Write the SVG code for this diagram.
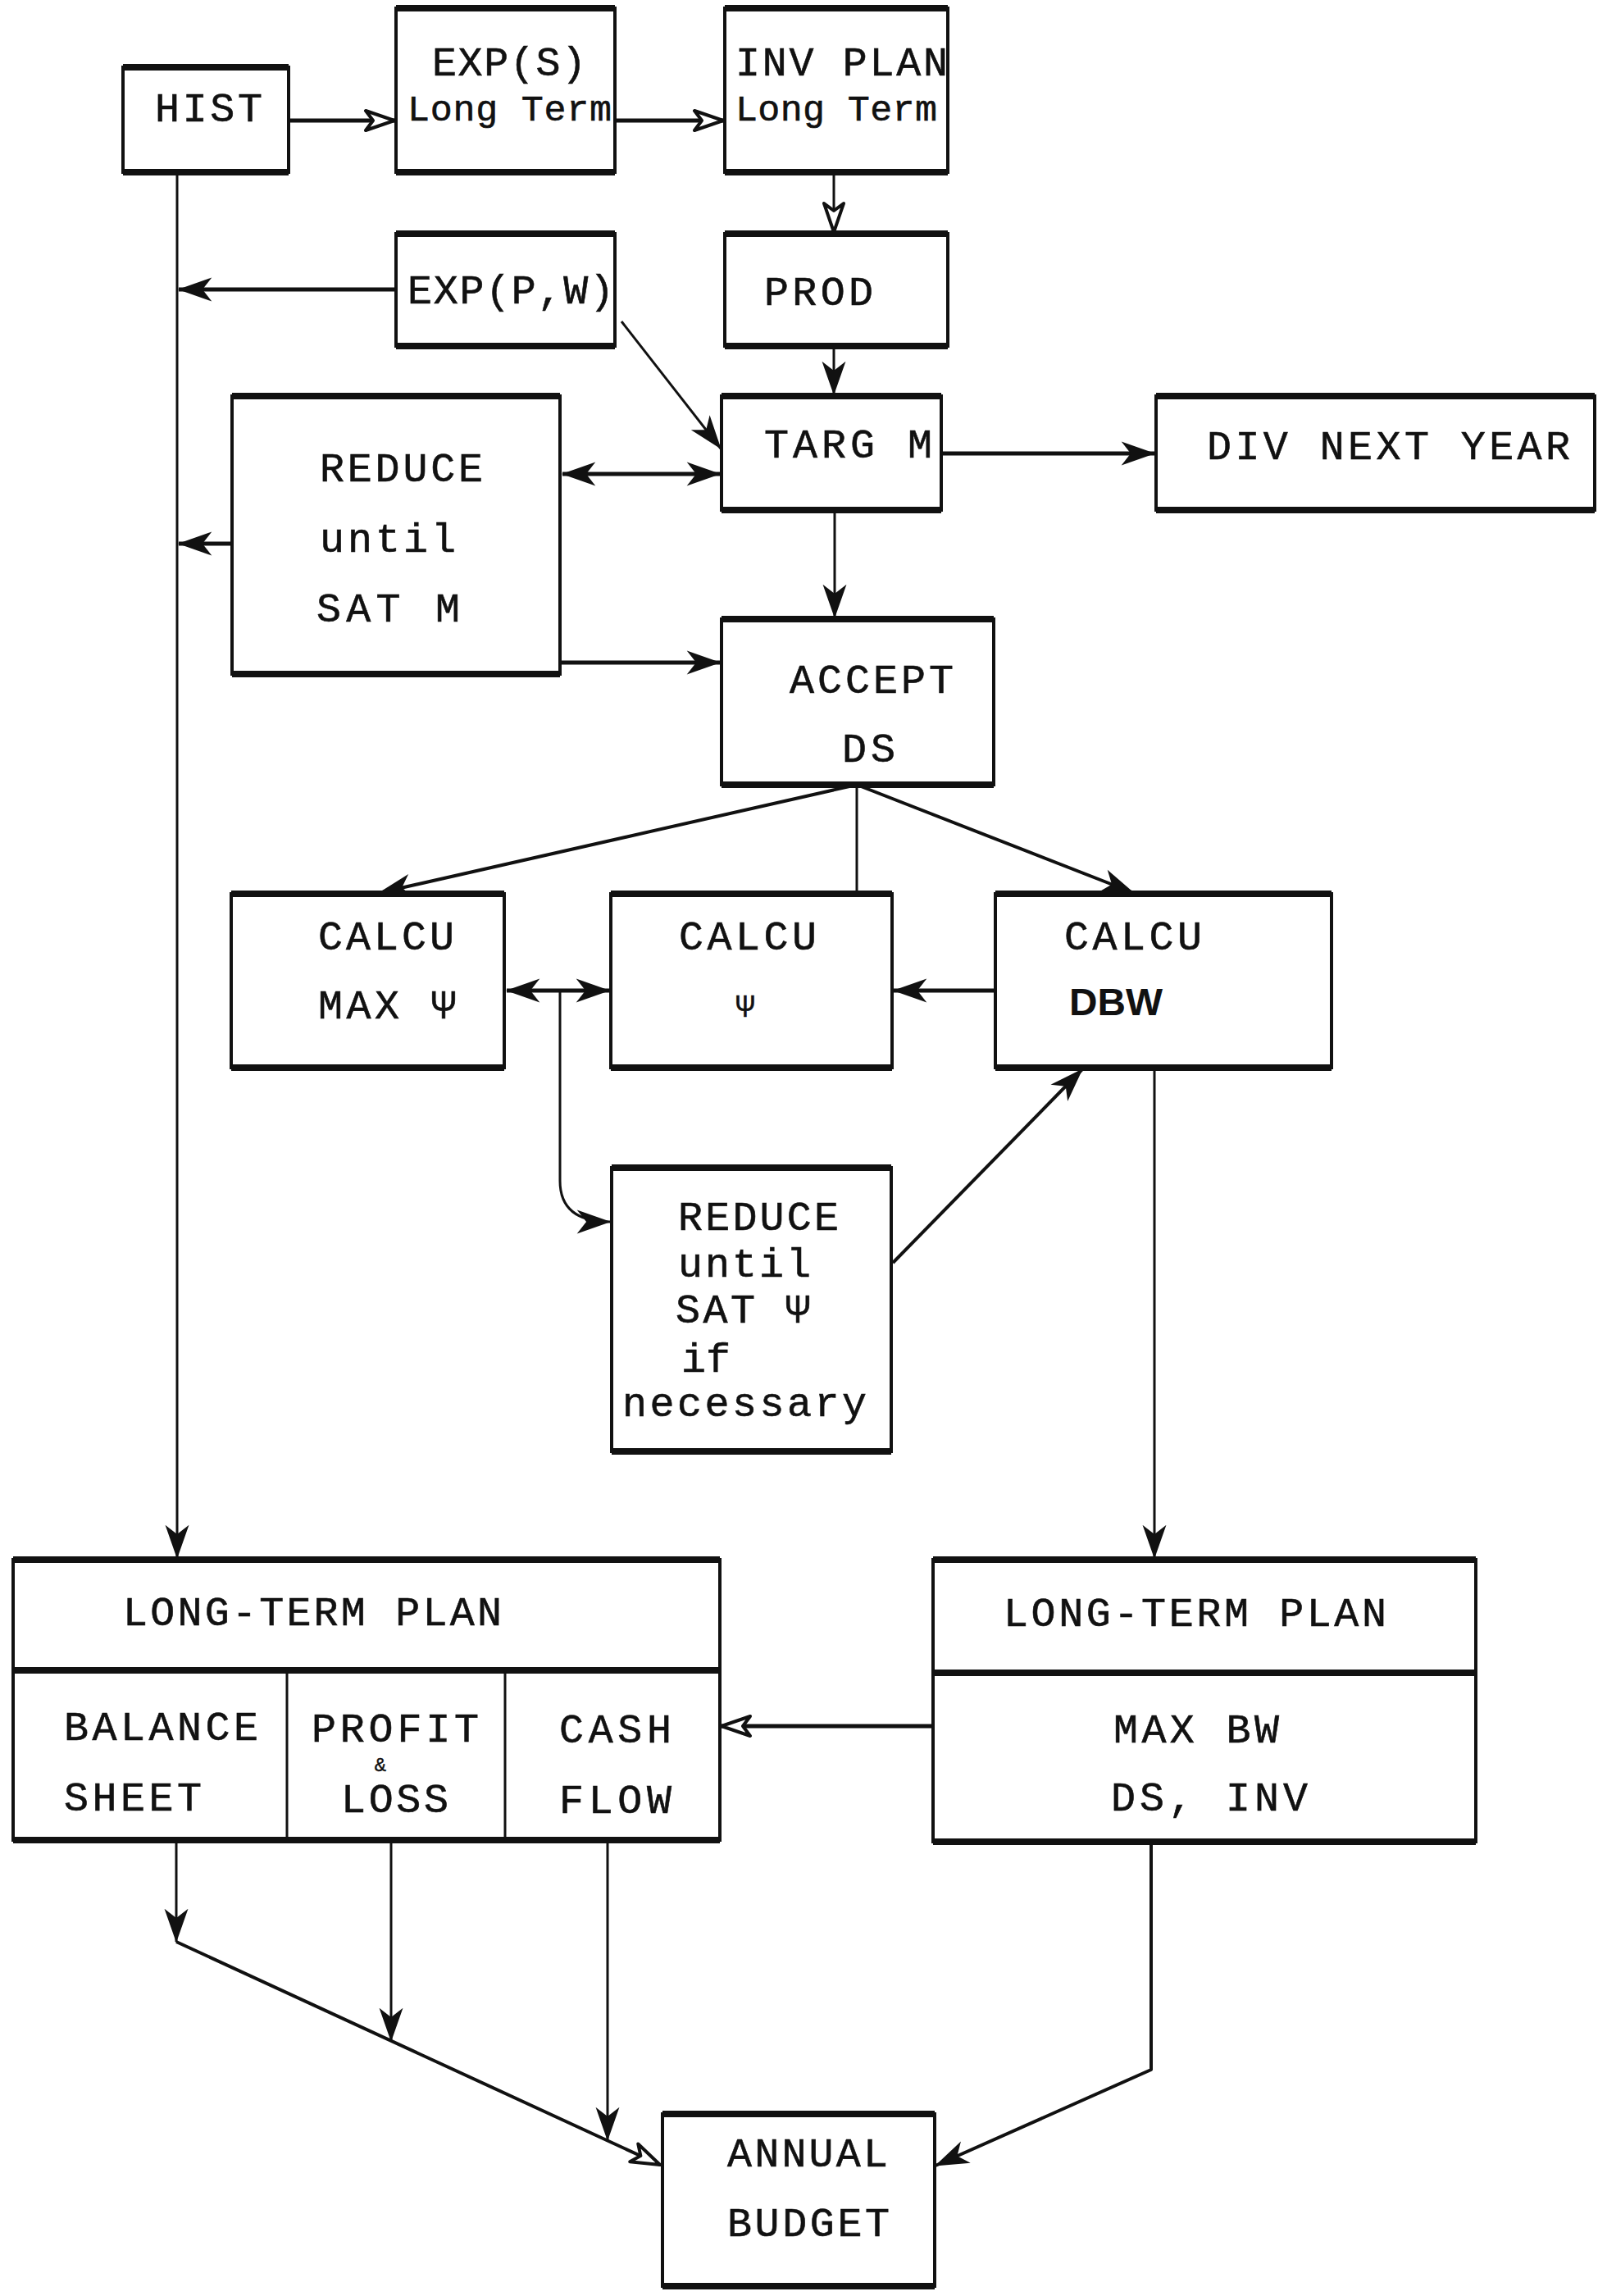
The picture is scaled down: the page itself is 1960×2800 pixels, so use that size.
<svg xmlns="http://www.w3.org/2000/svg" width="1960" height="2800" viewBox="0 0 1960 2800">
<style>
.bx{fill:#fff;stroke:#111;stroke-width:4}
.ed{stroke:#111;stroke-width:8;fill:none}
.dv{stroke:#111;stroke-width:3;fill:none}
.t{font-family:"Liberation Mono","DejaVu Sans Mono",monospace;font-size:50px;fill:#111;stroke:#111;stroke-width:0.6}
.tb{font-family:"Liberation Sans","DejaVu Sans",sans-serif;font-size:46px;font-weight:bold;fill:#111}
.c{stroke:#111;fill:none;stroke-linejoin:round}
.w5{stroke-width:5}
.w4{stroke-width:4}
.w3{stroke-width:3}
.af{marker-end:url(#af)}
.ao{marker-end:url(#ao)}
.ab{marker-start:url(#afs);marker-end:url(#af)}
</style>
<defs>
<marker id="af" viewBox="0 0 40 30" refX="39" refY="15" markerWidth="42" markerHeight="31" markerUnits="userSpaceOnUse" orient="auto">
<path d="M0,1 L40,15 L0,29 L11,15 Z" fill="#111"/>
</marker>
<marker id="afs" viewBox="0 0 40 30" refX="39" refY="15" markerWidth="42" markerHeight="31" markerUnits="userSpaceOnUse" orient="auto-start-reverse">
<path d="M0,1 L40,15 L0,29 L11,15 Z" fill="#111"/>
</marker>
<marker id="ao" viewBox="0 0 40 30" refX="38" refY="15" markerWidth="40" markerHeight="30" markerUnits="userSpaceOnUse" orient="auto">
<path d="M3,3 L38,15 L3,27 L12,15 Z" fill="#fff" stroke="#111" stroke-width="4" stroke-linejoin="round"/>
</marker>
</defs>
<rect width="1960" height="2800" fill="#fff"/>

<g id="connectors">
<line class="c w5 ao" x1="352" y1="147" x2="481" y2="147"/>
<line class="c w5 ao" x1="750" y1="147" x2="882" y2="147"/>
<line class="c w3 ao" x1="1017" y1="210" x2="1017" y2="283"/>
<line class="c w3 af" x1="216" y1="210" x2="216" y2="1900"/>
<line class="c w5 af" x1="483" y1="353" x2="218" y2="353"/>
<line class="c w3 af" x1="758" y1="392" x2="879" y2="547"/>
<line class="c w3 af" x1="1017" y1="422" x2="1017" y2="481"/>
<line class="c w5 ab" x1="686" y1="578" x2="878" y2="578"/>
<line class="c w5 af" x1="1148" y1="553" x2="1408" y2="553"/>
<line class="c w5 af" x1="283" y1="663" x2="218" y2="663"/>
<line class="c w3 af" x1="1018" y1="622" x2="1018" y2="753"/>
<line class="c w5 af" x1="683" y1="808" x2="878" y2="808"/>
<line class="c w4 af" x1="1045" y1="957" x2="462" y2="1089"/>
<line class="c w3" x1="1045" y1="957" x2="1045" y2="1090"/>
<line class="c w4 af" x1="1045" y1="957" x2="1383" y2="1089"/>
<line class="c w5 ab" x1="618" y1="1208" x2="743" y2="1208"/>
<line class="c w5 af" x1="1214" y1="1208" x2="1090" y2="1208"/>
<path class="c w3 af" d="M683,1208 V1440 Q683,1490 744,1490"/>
<line class="c w4 af" x1="1089" y1="1540" x2="1320" y2="1304"/>
<line class="c w3 af" x1="1408" y1="1302" x2="1408" y2="1900"/>
<line class="c w5 ao" x1="1138" y1="2105" x2="880" y2="2105"/>
<line class="c w3 af" x1="215" y1="2244" x2="215" y2="2368"/>
<line class="c w4 ao" x1="215" y1="2368" x2="805" y2="2640"/>
<line class="c w3 af" x1="477" y1="2244" x2="477" y2="2489"/>
<line class="c w3 af" x1="741" y1="2244" x2="741" y2="2610"/>
<path class="c w4 af" d="M1404,2247 V2524 L1141,2641"/>
</g>

<g id="hist">
<rect class="bx" x="150" y="82" width="202" height="128"/>
<path class="ed" d="M150,82 H352 M150,210 H352"/>
<text class="t" x="189" y="148" textLength="131" lengthAdjust="spacing">HIST</text>
</g>
<g id="exp-s">
<rect class="bx" x="483" y="10" width="267" height="200"/>
<path class="ed" d="M483,10 H750 M483,210 H750"/>
<text class="t" x="527" y="92" textLength="188" lengthAdjust="spacing">EXP(S)</text>
<text class="t" x="497" y="147" textLength="249" lengthAdjust="spacing" style="font-size:45px">Long Term</text>
</g>
<g id="inv-plan">
<rect class="bx" x="884" y="10" width="272" height="200"/>
<path class="ed" d="M884,10 H1156 M884,210 H1156"/>
<text class="t" x="897" y="92" textLength="259" lengthAdjust="spacing">INV PLAN</text>
<text class="t" x="897" y="147" textLength="246" lengthAdjust="spacing" style="font-size:45px">Long Term</text>
</g>
<g id="exp-pw">
<rect class="bx" x="483" y="285" width="267" height="137"/>
<path class="ed" d="M483,285 H750 M483,422 H750"/>
<text class="t" x="497" y="370" textLength="252" lengthAdjust="spacing">EXP(P,W)</text>
</g>
<g id="prod">
<rect class="bx" x="884" y="285" width="272" height="137"/>
<path class="ed" d="M884,285 H1156 M884,422 H1156"/>
<text class="t" x="932" y="372" textLength="133" lengthAdjust="spacing">PROD</text>
</g>
<g id="targ-m">
<rect class="bx" x="880" y="483" width="268" height="139"/>
<path class="ed" d="M880,483 H1148 M880,622 H1148"/>
<text class="t" x="932" y="558" textLength="205" lengthAdjust="spacing">TARG M</text>
</g>
<g id="div-next-year">
<rect class="bx" x="1410" y="483" width="535" height="139"/>
<path class="ed" d="M1410,483 H1945 M1410,622 H1945"/>
<text class="t" x="1472" y="560" textLength="443" lengthAdjust="spacing">DIV NEXT YEAR</text>
</g>
<g id="reduce-m">
<rect class="bx" x="283" y="483" width="400" height="339"/>
<path class="ed" d="M283,483 H683 M283,822 H683"/>
<text class="t" x="390" y="587" textLength="199" lengthAdjust="spacing">REDUCE</text>
<text class="t" x="390" y="673" textLength="166" lengthAdjust="spacing">until</text>
<text class="t" x="386" y="758" textLength="175" lengthAdjust="spacing">SAT M</text>
</g>
<g id="accept-ds">
<rect class="bx" x="880" y="755" width="332" height="202"/>
<path class="ed" d="M880,755 H1212 M880,957 H1212"/>
<text class="t" x="963" y="845" textLength="200" lengthAdjust="spacing">ACCEPT</text>
<text class="t" x="1027" y="929" textLength="65" lengthAdjust="spacing">DS</text>
</g>
<g id="calcu-max-psi">
<rect class="bx" x="282" y="1090" width="333" height="212"/>
<path class="ed" d="M282,1090 H615 M282,1302 H615"/>
<text class="t" x="388" y="1158" textLength="166" lengthAdjust="spacing">CALCU</text>
<text class="t" x="388" y="1242" textLength="168" lengthAdjust="spacing">MAX Ψ</text>
</g>
<g id="calcu-psi">
<rect class="bx" x="745" y="1090" width="343" height="212"/>
<path class="ed" d="M745,1090 H1088 M745,1302 H1088"/>
<text class="t" x="828" y="1158" textLength="168" lengthAdjust="spacing">CALCU</text>
<text class="t" x="909" y="1240" text-anchor="middle" style="font-size:38px">Ψ</text>
</g>
<g id="calcu-dbw">
<rect class="bx" x="1214" y="1090" width="410" height="212"/>
<path class="ed" d="M1214,1090 H1624 M1214,1302 H1624"/>
<text class="t" x="1298" y="1158" textLength="168" lengthAdjust="spacing">CALCU</text>
<text class="tb" x="1304" y="1238" textLength="114" lengthAdjust="spacingAndGlyphs">DBW</text>
</g>
<g id="reduce-psi">
<rect class="bx" x="746" y="1424" width="341" height="346"/>
<path class="ed" d="M746,1424 H1087 M746,1770 H1087"/>
<text class="t" x="827" y="1500" textLength="196" lengthAdjust="spacing">REDUCE</text>
<text class="t" x="827" y="1557" textLength="162" lengthAdjust="spacing">until</text>
<text class="t" x="824" y="1613" textLength="164" lengthAdjust="spacing">SAT Ψ</text>
<text class="t" x="831" y="1673" textLength="60" lengthAdjust="spacing">if</text>
<text class="t" x="759" y="1727" textLength="298" lengthAdjust="spacing">necessary</text>
</g>
<g id="long-term-plan-left">
<rect class="bx" x="16" y="1902" width="862" height="342"/>
<path class="ed" d="M16,1902 H878 M16,2037 H878 M16,2244 H878"/>
<path class="dv" d="M350,2037 V2244 M616,2037 V2244"/>
<text class="t" x="150" y="1982" textLength="462" lengthAdjust="spacing">LONG-TERM PLAN</text>
<text class="t" x="78" y="2122" textLength="237" lengthAdjust="spacing">BALANCE</text>
<text class="t" x="78" y="2208" textLength="168" lengthAdjust="spacing">SHEET</text>
<text class="t" x="380" y="2124" textLength="204" lengthAdjust="spacing">PROFIT</text>
<text class="t" x="464" y="2160" text-anchor="middle" style="font-size:24px;stroke-width:0.4">&amp;</text>
<text class="t" x="416" y="2210" textLength="131" lengthAdjust="spacing">LOSS</text>
<text class="t" x="682" y="2125" textLength="137" lengthAdjust="spacing">CASH</text>
<text class="t" x="682" y="2211" textLength="137" lengthAdjust="spacing">FLOW</text>
</g>
<g id="long-term-plan-right">
<rect class="bx" x="1138" y="1902" width="662" height="344"/>
<path class="ed" d="M1138,1902 H1800 M1138,2040 H1800 M1138,2246 H1800"/>
<text class="t" x="1224" y="1983" textLength="467" lengthAdjust="spacing">LONG-TERM PLAN</text>
<text class="t" x="1358" y="2125" textLength="202" lengthAdjust="spacing">MAX BW</text>
<text class="t" x="1355" y="2208" textLength="240" lengthAdjust="spacing">DS, INV</text>
</g>
<g id="annual-budget">
<rect class="bx" x="808" y="2578" width="332" height="210"/>
<path class="ed" d="M808,2578 H1140 M808,2788 H1140"/>
<text class="t" x="887" y="2642" textLength="196" lengthAdjust="spacing">ANNUAL</text>
<text class="t" x="887" y="2727" textLength="198" lengthAdjust="spacing">BUDGET</text>
</g>
</svg>
